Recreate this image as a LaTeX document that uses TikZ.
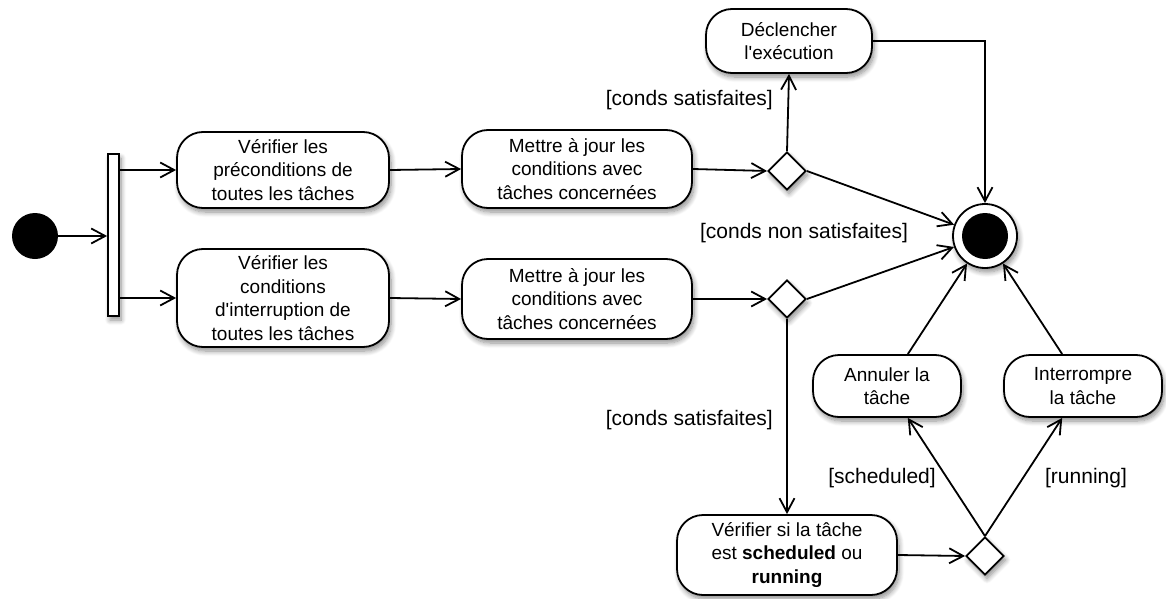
\documentclass[tikz,border=0pt]{standalone}
\usepackage{fontspec}
\setmainfont{Liberation Sans}
\usetikzlibrary{arrows.meta,shapes.geometric,shadows.blur}
\begin{document}
\begin{tikzpicture}[x=1pt,y=-1pt,
  shad/.style={blur shadow={shadow xshift=2pt,shadow yshift=-4pt,shadow blur steps=8,shadow opacity=45,shadow blur radius=5pt}},
  act/.style={draw,line width=1.8pt,rounded corners=26pt,fill=white,align=center,
    font=\fontsize{19}{23.5}\selectfont,inner sep=0pt,shad},
  dec/.style={draw,diamond,line width=1.8pt,fill=white,minimum width=38pt,minimum height=38pt,inner sep=0pt,shad},
  flow/.style={line width=1.8pt,-{Straight Barb[length=14pt,width=15pt,line width=1.8pt]}},
  guard/.style={font=\fontsize{21}{25}\selectfont,inner sep=0pt}
]
\useasboundingbox (0,0) rectangle (1166,599);

% initial, fork
\node[circle,fill=black,minimum size=46pt,inner sep=0pt] (init) at (35,236) {};
\node[draw,fill=white,line width=1.8pt,minimum width=11pt,minimum height=162pt,inner sep=0pt,shad] (fork) at (113.5,235) {};

% activities
\node[act,minimum width=212pt,minimum height=76pt] (pre) at (283,170) {Vérifier les\\préconditions de\\toutes les tâches};
\node[act,minimum width=212pt,minimum height=98pt] (intr) at (283,298) {Vérifier les\\conditions\\d\textquotesingle interruption de\\toutes les tâches};
\node[act,minimum width=230pt,minimum height=78pt] (maj1) at (577,169) {Mettre à jour les\\conditions avec\\tâches concernées};
\node[act,minimum width=230pt,minimum height=80pt] (maj2) at (577,299) {Mettre à jour les\\conditions avec\\tâches concernées};
\node[act,minimum width=166pt,minimum height=64pt] (decl) at (789,41) {Déclencher\\l\textquotesingle exécution};
\node[act,minimum width=148pt,minimum height=62pt] (ann) at (887,386) {Annuler la\\tâche};
\node[act,minimum width=158pt,minimum height=62pt] (intp) at (1083,386) {Interrompre\\la tâche};
\node[act,minimum width=220pt,minimum height=80pt] (verif) at (787,555) {Vérifier si la tâche\\est \textbf{scheduled} ou\\\textbf{running}};

% decisions
\node[dec] (d1) at (787,171) {};
\node[dec] (d2) at (787,299) {};
\node[dec] (d3) at (985,556) {};

% final
\node[circle,draw,fill=white,line width=1.8pt,minimum size=64pt,inner sep=0pt,shad] (final) at (985,236) {};
\fill (final.center) circle (23);

% flows
\draw[flow] (init) -- (init -| fork.west);
\draw[flow] (pre.west -| fork.east) -- (pre.west);
\draw[flow] (intr.west -| fork.east) -- (intr.west);
\draw[flow] (pre.east) -- (maj1.west);
\draw[flow] (intr.east) -- (maj2.west);
\draw[flow] (maj1.east) -- (d1.west);
\draw[flow] (maj2.east) -- (d2.west);
\draw[flow] (d1.north) -- (decl.south);
\draw[flow] (decl.east) -| (final.north);
\draw[flow] (d1.east) -- (final);
\draw[flow] (d2.east) -- (final);
\draw[flow] (d2.south) -- (verif.north);
\draw[flow] (verif.east) -- (d3.west);
\draw[flow] (d3.north) -- (ann);
\draw[flow] (d3.north) -- (intp);
\draw[flow] (ann) -- (final);
\draw[flow] (intp) -- (final);

% guards
\node[guard,anchor=east] (g1) at (773,100) {[conds satisfaites]};
\node[guard] (g2) at (804,233) {[conds non satisfaites]};
\node[guard,anchor=east] (g3) at (773,420) {[conds satisfaites]};
\node[guard] (g4) at (882,478) {[scheduled]};
\node[guard] (g5) at (1086,478) {[running]};
\end{tikzpicture}
\end{document}
